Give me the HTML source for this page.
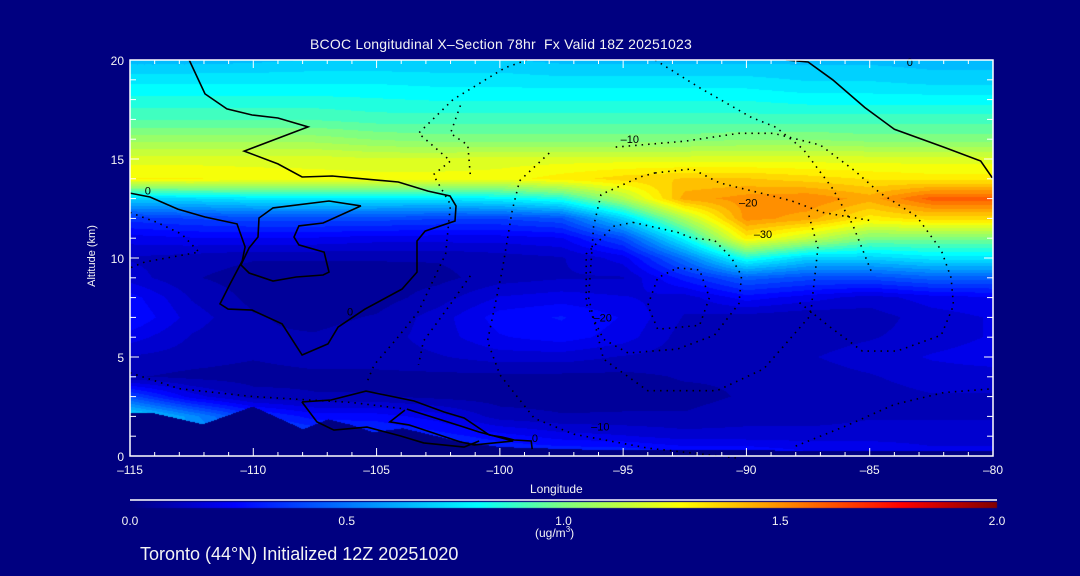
<!DOCTYPE html>
<html><head><meta charset="utf-8">
<style>
html,body{margin:0;padding:0;background:#000080;}
#wrap{position:relative;width:1080px;height:576px;background:#000080;overflow:hidden;font-family:"Liberation Sans",sans-serif;color:#fff;}
.t{position:absolute;white-space:nowrap;color:#f4f4f4;}
canvas{position:absolute;left:0;top:0;}
svg{position:absolute;left:0;top:0;}
</style></head>
<body>
<div id="wrap">
<canvas id="cv" width="1080" height="576"></canvas>
<svg id="sv" width="1080" height="576"></svg>
<div class="t" style="left:310px;top:36px;font-size:14px;letter-spacing:0.2px;">BCOC Longitudinal X–Section 78hr&nbsp; Fx Valid 18Z 20251023</div>
<div class="t" style="left:52px;top:250px;font-size:11px;transform:rotate(-90deg);transform-origin:center;width:80px;text-align:center;">Altitude (km)</div>
<div class="t" style="left:530px;top:482px;font-size:12px;">Longitude</div>
<div class="t" style="left:535px;top:525px;font-size:12px;">(ug/m<sup style="font-size:8px">3</sup>)</div>
<div class="t" style="left:140px;top:544px;font-size:18px;">Toronto (44°N) Initialized 12Z 20251020</div>
</div>
<script>
// ---- data ----
const lons = [-115,-112.5,-110,-107.5,-105,-102.5,-100,-97.5,-95,-92.5,-90,-87.5,-85,-82.5,-80];
const alts = [20,19,18,17,16,15,14,13,12,11,10,9,8,7,6,5,4,3,2,1,0];
const conc = [
[.65,.65,.66,.68,.68,.68,.68,.66,.66,.66,.66,.66,.66,.65,.65],
[.76,.76,.76,.76,.76,.75,.75,.74,.74,.74,.74,.72,.72,.7,.7],
[.84,.84,.84,.84,.83,.82,.82,.82,.82,.82,.82,.8,.8,.8,.8],
[.92,.92,.92,.92,.9,.9,.9,.9,.9,.9,.9,.9,.9,.9,.9],
[1.05,1.05,1.05,1.05,1.02,1.0,1.0,1.0,1.0,1.0,1.02,1.02,1.0,1.0,1.0],
[1.2,1.2,1.2,1.2,1.18,1.18,1.2,1.2,1.2,1.2,1.2,1.2,1.2,1.2,1.2],
[1.28,1.28,1.26,1.25,1.25,1.25,1.25,1.3,1.35,1.38,1.38,1.35,1.32,1.3,1.3],
[.7,.72,.75,.75,.75,.75,.78,.85,1.1,1.45,1.5,1.52,1.45,1.6,1.6],
[.35,.38,.4,.4,.4,.38,.38,.42,.7,1.1,1.5,1.45,1.3,1.35,1.35],
[.2,.22,.22,.22,.2,.2,.2,.22,.4,.8,1.3,1.15,1.0,1.0,1.0],
[.12,.1,.08,.08,.08,.08,.1,.12,.2,.5,.85,.7,.7,.75,.75],
[.15,.08,.05,.05,.05,.06,.1,.12,.12,.3,.45,.4,.4,.45,.45],
[.25,.12,.06,.05,.05,.1,.18,.2,.18,.15,.25,.2,.15,.2,.22],
[.28,.15,.08,.06,.08,.15,.25,.28,.22,.12,.1,.08,.1,.15,.18],
[.2,.12,.08,.08,.1,.15,.22,.25,.2,.1,.08,.1,.12,.15,.18],
[.12,.1,.08,.1,.1,.12,.15,.15,.12,.1,.1,.12,.15,.18,.2],
[.08,.06,.05,.06,.06,.06,.06,.06,.06,.08,.08,.1,.12,.15,.15],
[.4,.2,.1,.08,.08,.06,.05,.05,.06,.06,.08,.08,.1,.12,.12],
[.75,.55,.35,.25,.25,.2,.1,.08,.08,.08,.1,.1,.12,.12,.12],
[.7,.6,.45,.4,.35,.3,.25,.2,.18,.15,.15,.15,.15,.15,.15],
[.5,.5,.45,.4,.35,.35,.35,.35,.35,.3,.3,.25,.25,.2,.2]];
const terrainLon = [-115,-114.07,-112.04,-110.01,-107.98,-106.97,-105.96,-105.15,-103.93,-101.9,-100,-95.9,-80];
const terrainAlt = [2.17,2.17,1.6,2.5,1.35,1.85,1.55,1.2,1.4,0.8,0.45,0.3,0.25];
const xTicks = [-115,-110,-105,-100,-95,-90,-85,-80];
const yTicks = [0,5,10,15,20];
const cbTicks = [0,0.5,1.0,1.5,2.0];
// contour lines as [lon,alt] pairs
const solidContours = [
 [[-112.6,20],[-111.96,18.29],[-111.07,17.53],[-110.05,17.22],[-109.00,17.07],[-107.78,16.62],[-110.37,15.40],[-109.00,14.75],[-108.02,14.09],[-106.80,14.14],[-104.12,13.84],[-102.91,13.38],[-102.02,13.13],[-101.78,12.63],[-101.82,11.87],[-103.03,11.36],[-103.36,10.86],[-103.36,9.29],[-103.97,8.43],[-105.47,7.42],[-106.56,6.51],[-106.97,5.66],[-108.02,5.10],[-108.83,6.67],[-110.05,7.37],[-111.02,7.42],[-111.35,7.68],[-110.94,8.69],[-110.45,9.85],[-110.33,10.56],[-110.66,11.72],[-111.96,12.07],[-113.06,12.47],[-114.19,13.08],[-115,13.28]],
 [[-105.63,12.63],[-106.93,12.88],[-109.20,12.53],[-109.77,12.02],[-109.81,11.06],[-110.17,10.51],[-110.50,9.65],[-110.17,9.24],[-109.20,8.84],[-108.26,9.04],[-107.17,9.14],[-106.93,9.29],[-107.13,10.30],[-108.15,10.66],[-108.35,11.06],[-108.15,11.62],[-107.17,11.77],[-105.63,12.63]],
 [[-88.4,20],[-87.5,19.9],[-86.5,19.0],[-85.2,17.6],[-84.0,16.5],[-82.0,15.6],[-80.5,14.9],[-80,14.0]],
 [[-108.03,2.73],[-106.85,2.83],[-105.43,3.28],[-103.48,2.78],[-102.26,2.22],[-101.45,1.92],[-100.43,1.06],[-99.91,0.96],[-99.42,0.81],[-98.73,0.76],[-98.69,0.35]],
 [[-108.03,2.73],[-107.42,1.72],[-106.73,1.31],[-105.39,1.46],[-104.02,1.01],[-103.09,0.66],[-101.45,0.45],[-100.84,0.76]],
 [[-103.85,2.32],[-104.46,1.72],[-103.69,1.57],[-101.61,0.71],[-101.04,0.56],[-99.46,0.76],[-100.84,1.21],[-101.61,1.52],[-103.77,2.37]]
];
const dottedContours = [
 [[-98.9,20],[-99.8,19.6],[-101.9,18.0],[-103.3,16.3],[-102.0,14.9],[-102.7,14.2],[-102.0,12.7],[-102.2,10.2],[-103.3,7.3],[-104.2,5.9],[-105.1,4.6],[-105.4,3.7]],
 [[-98.0,15.3],[-99.2,13.9],[-99.5,12.4],[-99.9,9.4],[-100.5,5.8],[-100.0,4.1],[-98.6,1.9],[-97.0,1.1],[-94.0,0.4],[-90.4,-0.1]],
 [[-95.3,15.6],[-92.5,15.9],[-90.3,16.3],[-88.9,16.3],[-87.0,15.7],[-85.6,14.4],[-84.6,13.3],[-83.1,12.1],[-82.1,10.4],[-81.7,9.0],[-81.6,7.6],[-82.1,6.1],[-83.9,5.3],[-85.3,5.3],[-86.7,6.6],[-87.9,7.8]],
 [[-93.7,14.3],[-92.2,14.5],[-91.1,13.8],[-88.2,12.9],[-86.9,12.3],[-85,11.9]],
 [[-93.7,14.3],[-94.3,14.1],[-95.9,13.2],[-96.2,11.6],[-96.4,8.0],[-95.8,4.9],[-94.0,3.3],[-91.2,3.3],[-89.3,4.4],[-87.4,7.1],[-87.1,10.5],[-87.5,12.3]],
 [[-94.6,11.8],[-92.8,11.3],[-92.2,11.0],[-91.3,10.9],[-90.6,10.0],[-90.2,9.1],[-90.3,7.7],[-91.3,6.1],[-92.8,5.4],[-94.8,5.2],[-95.8,5.9],[-96.5,7.7],[-96.5,10.2],[-95.4,11.6],[-94.6,11.8]],
 [[-92.8,9.5],[-91.9,9.4],[-91.5,8.0],[-91.9,6.6],[-93.6,6.4],[-94.0,7.6],[-93.6,9.0],[-92.8,9.5]],
 [[-93.7,20],[-91.9,18.6],[-89.8,17.1],[-88.8,16.6],[-87.7,15.5],[-86.5,13.5],[-85.7,11.7],[-84.9,9.2]],
 [[-101.6,17.7],[-102.0,16.3],[-101.3,15.7],[-101.2,14.2]],
 [[-115,12.3],[-113.9,11.8],[-112.9,11.2],[-112.2,10.3],[-114.4,9.8],[-115,9.5]],
 [[-101.2,9.1],[-102.1,7.5],[-103.1,5.8],[-103.3,4.6]],
 [[-115,4.2],[-113,3.4],[-110,3.0],[-106,2.7],[-104,2.4]],
 [[-88.0,0.5],[-86,1.5],[-84,2.6],[-82,3.2],[-80,3.4]]
];
const contourLabels = [[-114.4,13.4,"0"],[-106.2,7.3,"0"],[-98.7,0.9,"0"],[-83.5,19.9,"0"],[-95.1,16.0,"–10"],[-90.3,12.8,"–20"],[-89.7,11.2,"–30"],[-96.2,7.0,"–20"],[-96.3,1.5,"–10"]];

// ---- axes ----
const PX0=130, PX1=993, PY0=60, PY1=456;
const xs = lon => PX0 + (lon+115)/35*(PX1-PX0);
const ys = a => PY1 - a/20*(PY1-PY0);
const lonOf = x => -115 + (x-PX0)/(PX1-PX0)*35;
const altOf = y => (PY1-y)/(PY1-PY0)*20;
const CB0=130, CB1=997;
const cbx = v => CB0 + v/2*(CB1-CB0);

const stops=[[0,[0,0,128]],[0.24,[0,0,255]],[0.5,[0,118,255]],[0.8,[0,255,255]],[1.0,[128,255,128]],[1.27,[255,255,0]],[1.53,[255,128,0]],[1.78,[255,0,0]],[2.0,[128,0,0]]];
function cmap(v){
  v=Math.max(0,Math.min(2,v));
  for(let i=1;i<stops.length;i++){
    if(v<=stops[i][0]){const a=stops[i-1],b=stops[i],t=(v-a[0])/(b[0]-a[0]);
      return [0,1,2].map(k=>Math.round(a[1][k]+(b[1][k]-a[1][k])*t));}
  }
  return stops[stops.length-1][1];
}
function interp1(xa,ya,x){
  if(x<=xa[0])return ya[0];
  for(let i=1;i<xa.length;i++) if(x<=xa[i]){const t=(x-xa[i-1])/(xa[i]-xa[i-1]);return ya[i-1]+(ya[i]-ya[i-1])*t;}
  return ya[ya.length-1];
}
function field(lon,alt){
  let ci=(lon-lons[0])/(lons[1]-lons[0]); ci=Math.max(0,Math.min(lons.length-1.0001,ci));
  let ri=(alts[0]-alt)/(alts[0]-alts[1]); ri=Math.max(0,Math.min(alts.length-1.0001,ri));
  const c=Math.floor(ci),r=Math.floor(ri),tx=ci-c,ty=ri-r;
  const a=conc[r][c],b=conc[r][c+1],d=conc[r+1][c],e=conc[r+1][c+1];
  return (a*(1-tx)+b*tx)*(1-ty)+(d*(1-tx)+e*tx)*ty;
}
const cv=document.getElementById('cv'),ctx=cv.getContext('2d');
ctx.fillStyle='#000080';ctx.fillRect(0,0,1080,576);
const img=ctx.createImageData(PX1-PX0,PY1-PY0);
for(let y=PY0;y<PY1;y++){const alt=altOf(y+0.5);
  for(let x=PX0;x<PX1;x++){const lon=lonOf(x+0.5);
    const i=((y-PY0)*(PX1-PX0)+(x-PX0))*4;
    let c;
    if(alt<interp1(terrainLon,terrainAlt,lon)) c=[0,0,128];
    else {let v=field(lon,alt); v=Math.round(v*20)/20; c=cmap(v);}
    img.data[i]=c[0];img.data[i+1]=c[1];img.data[i+2]=c[2];img.data[i+3]=255;}}
ctx.putImageData(img,PX0,PY0);
// colorbar
for(let x=CB0;x<CB1;x++){const c=cmap((x-CB0)/(CB1-CB0)*2);ctx.fillStyle=`rgb(${c[0]},${c[1]},${c[2]})`;ctx.fillRect(x,502,1,6);}

const NS='http://www.w3.org/2000/svg',sv=document.getElementById('sv');
function mk(tag,attrs,parent){const e=document.createElementNS(NS,tag);for(const k in attrs)e.setAttribute(k,attrs[k]);(parent||sv).appendChild(e);return e;}
const gC=mk('g',{});


solidContours.forEach(pts=>{
  const p=mk('polyline',{points:pts.map(q=>xs(q[0]).toFixed(1)+','+ys(q[1]).toFixed(1)).join(' '),fill:'none',stroke:'#000',"stroke-width":1.6},gC);
  
  
});
dottedContours.forEach(pts=>{
  const p=mk('polyline',{points:pts.map(q=>xs(q[0]).toFixed(1)+','+ys(q[1]).toFixed(1)).join(' '),fill:'none',stroke:'#000',"stroke-width":1.6,"stroke-dasharray":"1.5 5"},gC);
  
  
});
contourLabels.forEach(l=>{
  const t=mk('text',{x:xs(l[0]),y:ys(l[1])+4,fill:'#000',"font-size":11,"font-family":"Liberation Sans, sans-serif"},gC);
  t.textContent=l[2];
  
  
});
// frame & ticks
const fr=mk('rect',{x:PX0,y:PY0,width:PX1-PX0,height:PY1-PY0,fill:'none',stroke:'#fff',"stroke-width":1.5});


for(let lon=-115;lon<=-80;lon++){const maj=(lon%5===0),len=maj?8:4;
  mk('line',{x1:xs(lon),x2:xs(lon),y1:PY1,y2:PY1-len,stroke:'#fff'});
  mk('line',{x1:xs(lon),x2:xs(lon),y1:PY0,y2:PY0+len,stroke:'#fff'});}
for(let a=0;a<=20;a++){const len=(a%5===0)?9:6;
  mk('line',{x1:PX0,x2:PX0+len,y1:ys(a),y2:ys(a),stroke:'#fff'});
  mk('line',{x1:PX1,x2:PX1-len,y1:ys(a),y2:ys(a),stroke:'#fff'});}
xTicks.forEach(v=>{const t=mk('text',{x:xs(v),y:PY1+18,fill:'#f4f4f4',"font-size":12,"text-anchor":"middle","font-family":"Liberation Sans, sans-serif"});
  t.textContent=(v<0?'–'+(-v):v);
  
  });
yTicks.forEach(v=>{const t=mk('text',{x:PX0-6,y:ys(v)+5,fill:'#f4f4f4',"font-size":12,"text-anchor":"end","font-family":"Liberation Sans, sans-serif"});
  t.textContent=v;
  
  });
const cbl=mk('line',{x1:CB0,x2:CB1,y1:500,y2:500,stroke:'#fff',"stroke-width":1.5});


cbTicks.forEach(v=>{const t=mk('text',{x:cbx(v),y:525,fill:'#f4f4f4',"font-size":12,"text-anchor":"middle","font-family":"Liberation Sans, sans-serif"});
  t.textContent=v.toFixed(1);
  
  });
</script>
</body></html>
